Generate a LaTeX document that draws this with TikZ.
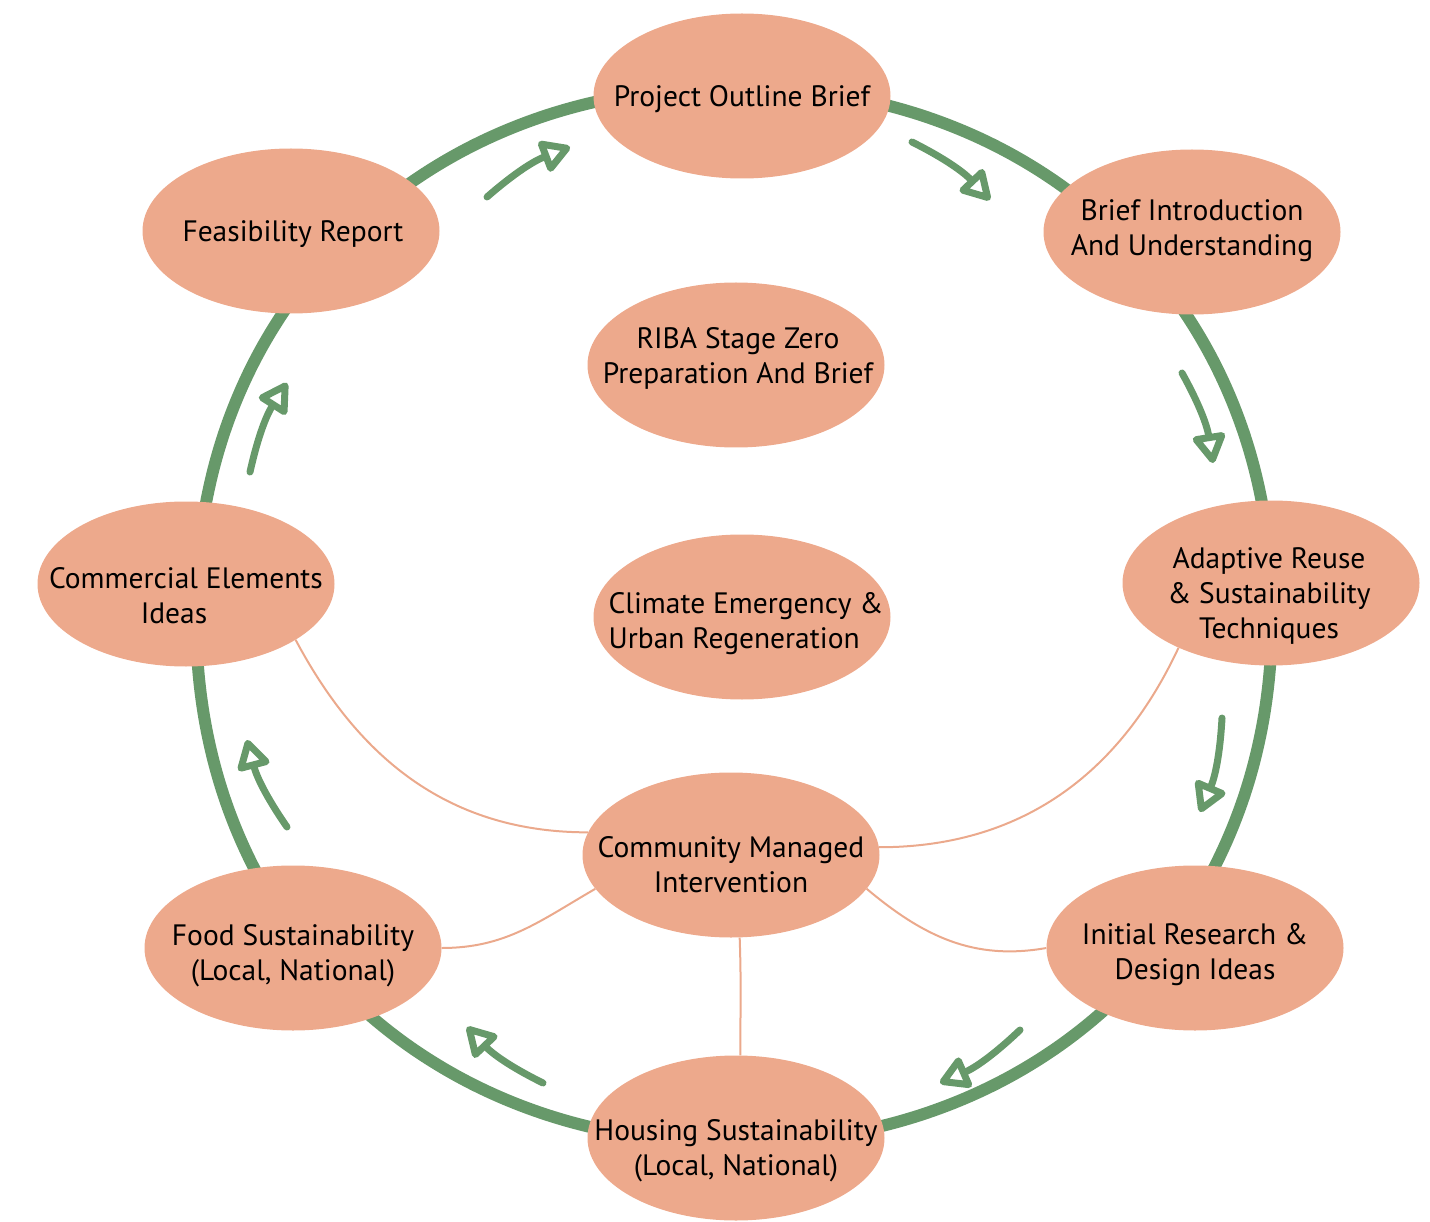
\documentclass[tikz,border=0pt]{standalone}
\usepackage{fontspec}
\setmainfont{PT Sans}
\usetikzlibrary{arrows.meta,shapes.geometric,backgrounds}
\definecolor{peach}{HTML}{EDA98C}
\definecolor{leaf}{HTML}{67996A}
\definecolor{thinpeach}{HTML}{EBA98C}
\begin{document}
\begin{tikzpicture}[x=1pt,y=1pt,
  stage/.style={ellipse, fill=peach, minimum width=297pt, minimum height=165pt, inner sep=0pt},
  stagetext/.style={align=center, inner sep=0pt, font=\fontsize{29.5}{35}\selectfont, text=black},
  ring/.style={draw=leaf, line width=12pt},
  flow/.style={draw=leaf, line width=7pt, line cap=round, line join=round, -{Triangle[open,length=33pt,width=36pt,round]}},
  link/.style={draw=thinpeach, line width=2pt}]
\useasboundingbox (0,0) rectangle (1430,-1222);

\node[stage] (pob) at (742,-96) {};
\node[stage] (bia) at (1192,-232) {};
\node[stage] (ars) at (1271,-583) {};
\node[stage] (ird) at (1195,-948) {};
\node[stage] (hsu) at (736,-1138) {};
\node[stage] (fsu) at (293,-948) {};
\node[stage] (cei) at (186,-584) {};
\node[stage] (fr) at (291,-231) {};
\node[stage] (riba) at (736,-365) {};
\node[stage] (cer) at (742,-617) {};
\node[stage] (cmi) at (731,-855) {};

\node[stagetext] (pob-t) at (742,-99) {Project Outline Brief};
\node[stagetext] (bia-t) at (1192,-231) {Brief Introduction\\And Understanding};
\node[stagetext] (ars-t) at (1269,-596) {Adaptive Reuse\\\& Sustainability\\Techniques};
\node[stagetext] (ird-t) at (1195,-955) {Initial Research \&\\Design Ideas};
\node[stagetext] (hsu-t) at (736,-1151) {Housing Sustainability\\(Local, National)};
\node[stagetext] (fsu-t) at (293,-956) {Food Sustainability\\(Local, National)};
\node[stagetext] (cei-t) at (186,-596) {Commercial Elements\\Ideas\hspace*{24pt}};
\node[stagetext] (fr-t) at (293,-234) {Feasibility Report};
\node[stagetext] (riba-t) at (738,-358) {RIBA Stage Zero\\Preparation And Brief};
\node[stagetext, align=left] (cer-t) at (746,-624) {Climate Emergency \&\\Urban Regeneration};
\node[stagetext] (cmi-t) at (731,-865) {Community Managed\\Intervention};

\begin{pgfonlayer}{background}
\draw[ring] plot[smooth cycle, domain=0.9:359.1, samples=200, variable=\t]
  ({734+538*cos(\t)*abs(cos(\t))^(-0.048)}, {-615+528*sin(\t)*abs(sin(\t))^(-0.048)});
\draw[link] (cei.-27) to[out=-62,in=180] (cmi.171);
\draw[link] (ars.215) to[out=-115,in=0] (cmi.3);
\draw[link] (fsu.0) to[out=0,in=210] (cmi.194);
\draw[link] (ird.180) to[out=190,in=-40] (cmi.-14);
\draw[link] (cmi.-84) to[out=-88,in=90] (hsu.87);
\end{pgfonlayer}

\coordinate (a1s) at (487,-197); \coordinate (a1e) at (570,-147);
\coordinate (a2s) at (912,-142); \coordinate (a2e) at (990,-200);
\coordinate (a3s) at (1182,-373); \coordinate (a3e) at (1213,-463);
\coordinate (a4s) at (1222,-718); \coordinate (a4e) at (1200,-812);
\coordinate (a5s) at (1020,-1030); \coordinate (a5e) at (940,-1083);
\coordinate (a6s) at (543,-1083); \coordinate (a6e) at (467,-1027);
\coordinate (a7s) at (287,-827); \coordinate (a7e) at (247,-740);
\coordinate (a8s) at (250,-472); \coordinate (a8e) at (287,-383);
\foreach \i in {1,...,8} {\draw[flow] (a\i s) to[bend left=10] (a\i e);}
\end{tikzpicture}
\end{document}
